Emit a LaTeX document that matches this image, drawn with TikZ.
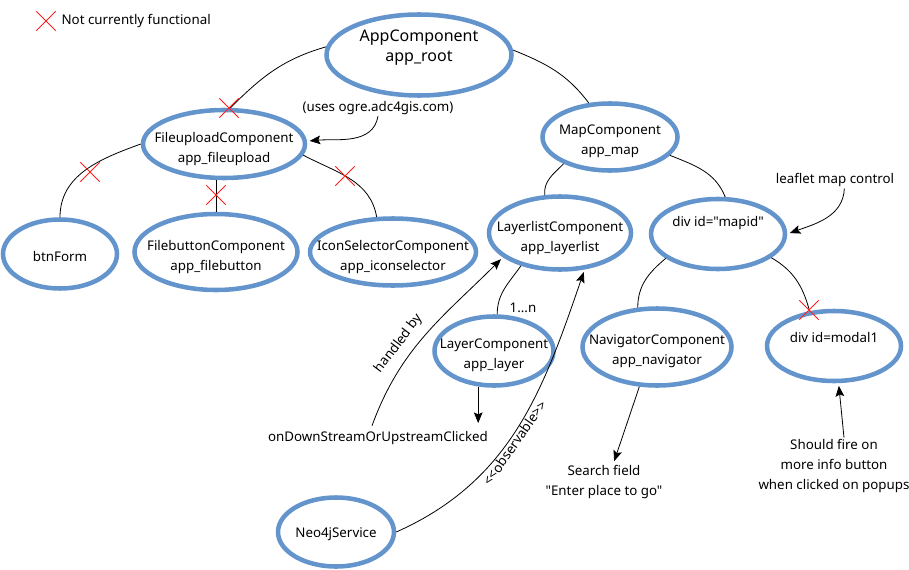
\documentclass[tikz,border=0pt]{standalone}
\usepackage{fontspec}
\setmainfont{Noto Sans}[Ligatures=TeXOff]
\usetikzlibrary{shapes,arrows.meta,positioning}
\definecolor{compblue}{RGB}{100,148,204}
\definecolor{failred}{RGB}{255,30,30}

\begin{document}
\begin{tikzpicture}[
    x=0.75pt, y=0.75pt,
    comp/.style={ellipse, draw=compblue, line width=3.4pt, inner sep=0pt},
    ctext/.style={font=\fontsize{10}{15}\selectfont, align=center, inner sep=0pt, yshift=-3.5pt},
    txt/.style={font=\fontsize{10}{15}\selectfont, align=center, inner sep=1pt},
    xmark/.style={cross out, draw=failred, line width=0.6pt, minimum size=14pt, inner sep=0pt},
    link/.style={line width=0.6pt},
    arrow/.style={-{Stealth[length=8pt, width=6.5pt, inset=1.5pt]}, line width=0.6pt, shorten >=2pt}
]
\useasboundingbox (0,0) rectangle (909,569);

% Legend
\node[xmark] (legx) at (46,548) {};
\node[txt, anchor=west] (legend) at (60,548) {Not currently functional};

% Components
\node[comp, minimum width=138.75pt, minimum height=60.75pt, label={[ctext, font=\fontsize{12}{15}\selectfont, yshift=9pt]center:{AppComponent\\app\_root}}] (app) at (419,514) {};
\node[comp, minimum width=121.5pt, minimum height=51pt, label={[ctext]center:{FileuploadComponent\\app\_fileupload}}] (fileup) at (224,425) {};
\node[comp, minimum width=85.5pt, minimum height=51.75pt, label={[ctext, yshift=2pt]center:btnForm}] (btnform) at (60,315) {};
\node[comp, minimum width=122.25pt, minimum height=57pt, label={[ctext]center:{FilebuttonComponent\\app\_filebutton}}] (filebtn) at (216,317) {};
\node[comp, minimum width=124.5pt, minimum height=50.25pt, label={[ctext]center:{IconSelectorComponent\\app\_iconselector}}] (iconsel) at (393,317) {};
\node[comp, minimum width=101.25pt, minimum height=50.25pt, label={[ctext]center:{MapComponent\\app\_map}}] (map) at (610,432) {};
\node[comp, minimum width=106.5pt, minimum height=54.75pt, label={[ctext]center:{LayerlistComponent\\app\_layerlist}}] (layerlist) at (560,336) {};
\node[comp, minimum width=100.5pt, minimum height=52.5pt, label={[ctext, yshift=12pt]center:{div id="mapid"}}] (mapid) at (718,335) {};
\node[comp, minimum width=89.25pt, minimum height=51.75pt, label={[ctext]center:{LayerComponent\\app\_layer}}] (layer) at (494,218) {};
\node[comp, minimum width=111.75pt, minimum height=57.75pt, label={[ctext]center:{NavigatorComponent\\app\_navigator}}] (nav) at (657,222) {};
\node[comp, minimum width=100.5pt, minimum height=52.5pt, label={[ctext, yshift=10pt]center:{div id=modal1}}] (modal) at (834,223) {};
\node[comp, minimum width=87pt, minimum height=51.75pt, label={[ctext, yshift=2pt]center:Neo4jService}] (neo) at (336,37) {};

% Notes
\node[txt] (uses) at (378,461) {(uses ogre.adc4gis.com)};
\node[txt] (leaflet) at (835,389) {leaflet map control};
\node[txt] (card) at (523,261) {1...n};
\node[txt, inner ysep=4pt] (ondown) at (378,131) {onDownStreamOrUpstreamClicked};
\node[txt] (search) at (604,87) {Search field\\"Enter place to go"};
\node[txt] (fire) at (834,103) {Should fire on\\more info button\\when clicked on popups};

% Tree
\draw[link] (app.175) to[out=196, in=45] (fileup.80);
\draw[link] (app.3) to[out=-22, in=127] (map.122);
\draw[link] (fileup.west) to[out=200, in=90] (btnform.north);
\draw[link] (fileup.south -| filebtn.north) -- (filebtn.north);
\draw[link] (fileup.-8) to[out=-28, in=100] (iconsel.115);
\draw[link] (map.210) to[out=225, in=95] (layerlist.112);
\draw[link] (map.-17) to[out=-22, in=112] (mapid.79);
\draw[link] (mapid.205) to[out=220, in=90] (nav.116);
\draw[link] (mapid.-24) to[out=-30, in=105] (modal.125);
\draw[link] (layerlist.220) to[out=235, in=90] (layer.85);

% Not working
\node[xmark] (x1) at (229,461) {};
\node[xmark] (x2) at (90,397) {};
\node[xmark] (x3) at (216,374) {};
\node[xmark] (x4) at (345,393) {};
\node[xmark] (x5) at (809,259) {};

% Arrows
\draw[arrow] (uses.south) to[out=260, in=5] (fileup.2);
\draw[arrow] ([xshift=7pt]leaflet.south) to[out=268, in=20] (mapid.east);
\draw[arrow] (layer.246) -- (layer.246 |- ondown.north);
\draw[arrow] ([xshift=-4.5pt]ondown.north) to[out=70, in=225]
    node[txt, pos=0.38, above=5pt, sloped] (hby) {handled by} (layerlist.203);
\draw[arrow] (neo.east) to[out=24, in=251]
    node[txt, pos=0.45, below, sloped, inner sep=0.5pt] (obs) {<<observable>>} (layerlist.-56);
\draw[arrow] (nav.246) -- ([xshift=7pt]search.north);
\draw[arrow] ([xshift=7.5pt]fire.north) -- (modal.277);

\end{tikzpicture}
\end{document}
